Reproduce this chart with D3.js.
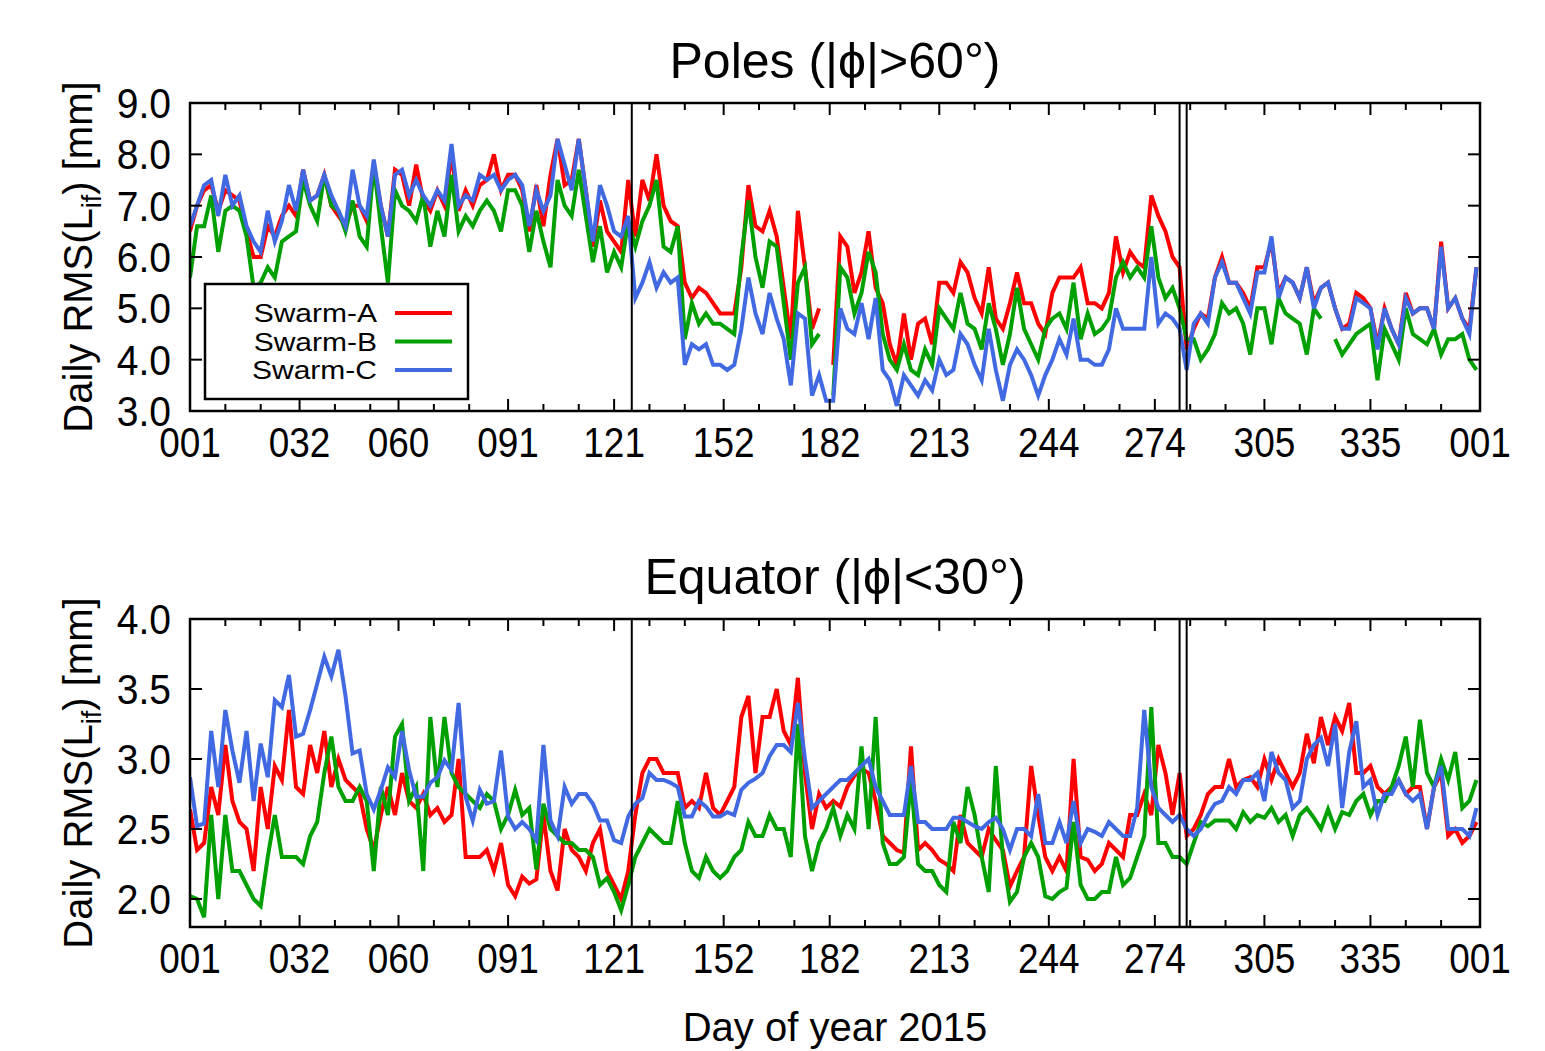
<!DOCTYPE html>
<html>
<head>
<meta charset="utf-8">
<script src="https://cdn.jsdelivr.net/npm/d3@7"></script>
<style>
  body { margin: 0; background: #fff; }
  text { font-family: "Liberation Sans", Arial, Helvetica, sans-serif; fill: #000; }
</style>
</head>
<body>
<script>
// daily RMS values, read every second day (001, 003, ... 365)
const days = d3.range(1, 366, 2);

// Poles (|phi| > 60 deg)
const poleA = [
  6.5,7.0,7.3,7.4,6.9,7.3,7.2,7.1,6.5,6.0, 6.0,6.6,6.4,6.8,7.0,6.8,7.7,7.1,7.2,7.6,
  7.0,6.8,6.6,7.0,7.0,6.7,7.8,7.0,6.4,7.7, 7.6,7.0,7.8,7.1,6.9,7.3,7.0,8.0,6.9,7.3,
  7.0,7.4,7.5,8.0,7.3,7.6,
  7.6,7.3,6.5,7.4,6.6,7.6,8.3,7.4,7.5,8.3, 7.3,6.2,7.1,6.5,6.3,6.1,7.5,6.4,7.5,7.1,
  8.0,7.0,6.7,6.6,5.5,5.2,5.4,5.3,5.1,4.9, 4.9,4.9,5.8,7.4,6.6,6.5,6.9,6.4,5.4,4.4,
  6.9,5.8,4.6,5.0,null,3.9,
  6.4,6.2,5.3,5.7,6.5,5.4,5.1,4.3,3.9,4.9, 4.0,4.7,4.8,4.3,5.5,5.5,5.3,5.9,5.7,5.2,
  4.9,5.8,4.8,4.6,5.1,5.7,5.1,5.1,4.7,4.5, 5.3,5.6,5.6,5.6,5.8,5.1,5.1,5.0,5.3,6.4,
  5.7,6.1,5.9,5.8,7.2,6.8,
  6.5,6.0,5.8,4.2,4.6,4.9,4.8,5.6,6.0,5.5, 5.5,5.3,5.0,5.8,5.8,6.3,5.3,5.6,5.5,5.2,
  5.8,5.1,5.4,5.5,5.0,4.6,4.7,5.3,5.2,5.0, 4.3,5.0,4.6,4.3,5.3,4.9,5.0,5.0,4.6,6.3,
  5.0,5.2,4.8,4.6,5.8
];
const poleB = [
  5.6,6.6,6.6,7.2,6.1,6.9,7.0,6.9,6.4,5.4, 5.5,5.8,5.6,6.3,6.4,6.5,7.5,7.0,6.7,7.6,
  7.0,6.9,6.5,7.1,6.4,6.2,7.8,6.6,5.5,7.3, 7.0,6.9,6.7,7.2,6.2,6.9,6.4,7.6,6.5,6.8,
  6.6,6.9,7.1,6.9,6.5,7.3,
  7.3,7.0,6.1,6.9,6.3,5.8,7.5,7.0,6.8,7.7, 6.8,5.9,6.6,5.7,6.1,5.8,6.7,6.2,6.7,7.0,
  7.5,6.2,6.1,6.6,4.4,5.1,4.7,4.9,4.7,4.7, 4.6,4.5,6.0,7.1,6.0,5.4,6.3,6.2,5.1,4.0,
  5.5,5.8,4.3,4.5,null,3.3,
  5.8,5.6,4.9,5.3,6.1,5.7,4.5,4.0,3.8,4.3, 3.8,3.7,4.2,3.9,5.0,4.8,4.6,5.3,4.7,4.6,
  4.2,5.1,4.6,3.9,4.5,5.4,4.6,4.3,4.0,4.6, 4.8,4.9,4.6,5.5,4.4,4.9,4.5,4.6,4.8,5.6,
  5.9,5.6,5.8,5.6,6.6,5.6,
  5.2,5.4,5.0,4.4,4.4,4.0,4.2,4.5,5.1,4.9, 5.0,4.7,4.1,5.0,5.0,4.3,5.2,4.9,4.8,4.7,
  4.1,5.0,4.8,null,4.4,4.1,4.3,4.5,4.6,4.7, 3.6,4.6,4.3,4.0,5.0,4.5,4.4,4.3,4.6,4.1,
  4.4,4.4,4.5,4.0,3.8
];
const poleC = [
  6.6,7.0,7.4,7.5,6.8,7.6,7.0,7.2,6.6,6.3, 6.1,6.9,6.3,6.7,7.4,6.9,7.7,7.1,7.2,7.6,
  7.2,6.9,6.6,7.7,7.0,6.8,7.9,7.0,6.4,7.6, 7.7,7.2,7.5,7.2,7.0,7.3,7.1,8.2,7.0,7.2,
  7.1,7.6,7.5,7.6,7.3,7.5,
  7.6,7.4,6.6,7.3,6.9,7.2,8.3,7.8,7.3,8.3, 7.3,6.3,7.4,7.0,6.5,6.4,6.8,5.2,5.5,5.9,
  5.4,5.7,5.5,5.6,3.9,4.3,4.2,4.3,3.9,3.9, 3.8,3.9,4.6,5.6,4.9,4.5,5.3,4.8,4.4,3.5,
  4.9,4.8,3.3,3.7,3.2,3.2,
  5.0,4.6,4.5,5.1,4.4,5.2,3.8,3.6,3.1,3.7, 3.5,3.3,3.6,3.4,4.0,3.7,3.8,4.5,4.3,3.9,
  3.6,4.6,3.8,3.2,3.9,4.2,4.0,3.7,3.3,3.7, 4.0,4.4,4.1,4.8,4.0,4.0,3.9,3.9,4.2,5.0,
  4.6,4.6,4.6,4.6,6.0,4.7,
  4.9,4.8,4.6,3.8,4.7,4.9,4.7,5.6,5.9,5.5, 5.5,5.2,4.9,5.7,5.7,6.4,5.2,5.6,5.5,5.2,
  5.8,5.0,5.4,5.5,5.0,4.6,4.6,5.2,5.1,5.0, 4.2,5.0,4.6,4.3,5.2,4.9,5.0,5.0,4.6,6.2,
  5.0,5.2,4.8,4.5,5.8
];

// Equator (|phi| < 30 deg)
const eqA = [
  2.64,2.35,2.4,2.8,2.6,3.1,2.7,2.55,2.5,2.2, 2.8,2.5,2.95,2.85,3.35,2.8,2.75,3.1,2.9,3.2,
  2.8,3.0,2.85,2.8,2.75,2.5,2.35,2.6,2.8,2.6, 2.9,2.7,2.65,2.75,2.6,2.65,2.55,2.6,3.0,2.3,
  2.3,2.3,2.35,2.2,2.4,2.1,
  2.02,2.16,2.11,2.14,2.6,2.2,2.06,2.5,2.35,2.3, 2.2,2.4,2.5,2.2,2.1,2.0,2.2,2.6,2.9,3.0,
  3.0,2.9,2.9,2.9,2.65,2.7,2.65,2.9,2.65,2.6, 2.7,2.8,3.3,3.45,2.9,3.3,3.3,3.5,3.2,3.1,
  3.58,2.9,2.5,2.75,2.65,2.7,
  2.66,2.8,2.88,2.93,2.9,2.7,2.45,2.4,2.35,2.33, 3.09,2.35,2.4,2.35,2.28,2.25,2.2,2.6,2.4,2.35,
  2.3,2.5,2.42,2.35,2.09,2.2,2.3,2.95,2.6,2.3, 2.2,2.3,2.2,3.0,2.3,2.28,2.2,2.25,2.4,2.35,
  2.3,2.6,2.6,2.75,2.6,3.1,
  2.9,2.6,2.9,2.45,2.5,2.6,2.75,2.8,2.8,3.0, 2.8,2.85,2.87,2.8,3.0,2.85,3.0,2.9,2.8,2.9,
  3.18,2.97,3.3,3.1,3.3,3.2,3.4,2.9,2.9,2.95, 2.8,2.75,2.8,2.85,2.75,2.8,2.8,2.5,2.8,2.9,
  2.45,2.5,2.4,2.45,2.55
];
const eqB = [
  2.02,2.0,1.87,2.6,2.0,2.6,2.2,2.2,2.1,2.0, 1.95,2.3,2.6,2.3,2.3,2.3,2.25,2.45,2.55,2.9,
  3.16,2.8,2.7,2.7,2.8,2.7,2.2,2.8,2.6,3.16, 3.25,2.7,2.8,2.2,3.3,2.8,3.3,2.9,2.8,2.75,
  2.7,2.65,2.75,2.7,2.5,2.6,
  2.78,2.6,2.65,2.21,2.68,2.5,2.45,2.4,2.4,2.35, 2.35,2.3,2.1,2.15,2.05,1.92,2.1,2.3,2.4,2.5,
  2.45,2.4,2.4,2.7,2.4,2.2,2.15,2.3,2.2,2.15, 2.2,2.3,2.35,2.55,2.45,2.45,2.6,2.5,2.5,2.3,
  3.25,2.45,2.2,2.4,2.5,2.65,
  2.45,2.6,2.5,3.09,2.5,3.3,2.4,2.25,2.25,2.3, 2.85,2.25,2.2,2.2,2.1,2.05,2.55,2.4,2.8,2.6,
  2.3,2.05,2.95,2.3,1.98,2.05,2.3,2.4,2.3,2.02, 2.0,2.05,2.08,2.55,2.1,2.0,2.0,2.05,2.05,2.3,
  2.1,2.15,2.3,2.45,3.37,2.4,
  2.4,2.3,2.3,2.25,2.4,2.55,2.52,2.56,2.56,2.56, 2.5,2.62,2.55,2.6,2.58,2.65,2.55,2.6,2.45,2.6,
  2.65,2.58,2.5,2.64,2.5,2.62,2.6,2.7,2.75,2.6, 2.7,2.7,2.8,2.95,3.16,2.8,3.28,2.9,2.8,3.0,
  2.85,3.05,2.65,2.7,2.85
];
const eqC = [
  2.87,2.52,2.54,3.2,2.8,3.35,3.06,2.83,3.2,2.7, 3.11,2.87,3.42,3.37,3.6,3.16,3.18,3.35,3.54,3.73,
  3.59,3.78,3.45,3.04,3.06,2.75,2.64,2.78,2.94,2.87, 3.2,2.92,2.73,2.73,2.83,2.87,2.99,2.92,3.4,2.73,
  2.56,2.78,2.68,2.7,3.06,2.59,
  2.5,2.55,2.5,2.42,3.1,2.56,2.45,2.8,2.68,2.75, 2.75,2.68,2.56,2.56,2.42,2.4,2.59,2.68,2.72,2.9,
  2.85,2.85,2.83,2.8,2.59,2.59,2.7,2.66,2.59,2.59, 2.62,2.6,2.78,2.83,2.86,2.9,3.02,3.1,3.1,3.05,
  3.4,3.0,2.65,2.7,2.75,2.8,
  2.85,2.85,2.9,2.95,3.0,2.8,2.7,2.6,2.6,2.6, 2.95,2.55,2.55,2.5,2.5,2.5,2.58,2.58,2.55,2.52,
  2.5,2.55,2.58,2.5,2.35,2.5,2.5,2.45,2.75,2.4, 2.4,2.55,2.4,2.7,2.4,2.5,2.48,2.45,2.55,2.5,
  2.45,2.45,2.65,3.35,2.8,2.65,
  2.6,2.55,2.6,2.5,2.45,2.5,2.6,2.68,2.7,2.8, 2.75,2.85,2.85,2.9,2.7,3.05,2.9,2.85,2.65,2.7,
  3.0,3.1,3.15,2.95,3.25,2.65,3.05,3.27,2.8,2.85, 2.6,2.75,2.75,2.85,2.75,2.7,2.75,2.5,2.8,2.95,
  2.5,2.5,2.5,2.45,2.65
];

const seriesNames = ["Swarm-A", "Swarm-B", "Swarm-C"];
const seriesColors = ["#ff0000", "#00a000", "#4169e1"];

// x axis: first day of each month, labelled as day of year
const monthStarts = [1, 32, 60, 91, 121, 152, 182, 213, 244, 274, 305, 335, 366];
const monthLabels = ["001","032","060","091","121","152","182","213","244","274","305","335","001"];

// days with vertical marker lines
const eventDays = [126, 281, 283];

const poleTicks = [3, 4, 5, 6, 7, 8, 9];
const eqTicks = [2.0, 2.5, 3.0, 3.5, 4.0];

const W = 1545, H = 1051;
const left = 190, right = 1480;

const svg = d3.select("body").append("svg")
    .attr("width", W)
    .attr("height", H);

const x = d3.scaleLinear().domain([1, 366]).range([left, right]);

const panels = [
  { title: "Poles (|\u03d5|>60\u00b0)", top: 103, bottom: 411, domain: [3, 9],
    ticks: poleTicks, data: [poleA, poleB, poleC], legend: true },
  { title: "Equator (|\u03d5|<30\u00b0)", top: 619, bottom: 927, domain: [1.8, 4.0],
    ticks: eqTicks, data: [eqA, eqB, eqC], legend: false }
];

// text squeezed/stretched horizontally, like the gnuplot png fonts
function label(g, px, py, str, size, anchor, sx) {
  return g.append("text")
    .attr("transform", "translate(" + px + "," + py + ") scale(" + sx + ",1)")
    .attr("text-anchor", anchor)
    .style("font-size", size + "px")
    .text(str);
}

panels.forEach(function(p) {
  const y = d3.scaleLinear().domain(p.domain).range([p.bottom, p.top]);
  const g = svg.append("g");

  // clip the series to the plot box
  const clipId = "clip" + p.top;
  svg.append("clipPath").attr("id", clipId)
    .append("rect")
      .attr("x", left).attr("y", p.top)
      .attr("width", right - left).attr("height", p.bottom - p.top);

  const line = d3.line()
      .defined(d => d[1] != null)
      .x(d => x(d[0]))
      .y(d => y(d[1]));

  const lines = g.append("g").attr("clip-path", "url(#" + clipId + ")");
  p.data.forEach(function(vals, i) {
    lines.append("path")
      .datum(days.map((d, k) => [d, vals[k]]))
      .attr("fill", "none")
      .attr("stroke", seriesColors[i])
      .attr("stroke-width", 4)
      .attr("stroke-linejoin", "miter")
      .attr("d", line);
  });

  // vertical marker lines
  g.selectAll("line.event")
    .data(eventDays)
    .enter().append("line")
      .attr("class", "event")
      .attr("x1", d => x(d)).attr("x2", d => x(d))
      .attr("y1", p.top).attr("y2", p.bottom)
      .attr("stroke", "#000")
      .attr("stroke-width", 2);

  // ticks, pointing inward on all four sides
  const minor = [];
  monthStarts.slice(0, -1).forEach(m => { minor.push(m + 10, m + 20); });
  const tk = g.append("g").attr("stroke", "#000").attr("stroke-width", 2);
  monthStarts.forEach(function(d) {
    tk.append("line").attr("x1", x(d)).attr("x2", x(d)).attr("y1", p.bottom).attr("y2", p.bottom - 12);
    tk.append("line").attr("x1", x(d)).attr("x2", x(d)).attr("y1", p.top).attr("y2", p.top + 12);
  });
  minor.forEach(function(d) {
    tk.append("line").attr("x1", x(d)).attr("x2", x(d)).attr("y1", p.bottom).attr("y2", p.bottom - 7);
    tk.append("line").attr("x1", x(d)).attr("x2", x(d)).attr("y1", p.top).attr("y2", p.top + 7);
  });
  p.ticks.forEach(function(v) {
    tk.append("line").attr("x1", left).attr("x2", left + 12).attr("y1", y(v)).attr("y2", y(v));
    tk.append("line").attr("x1", right).attr("x2", right - 12).attr("y1", y(v)).attr("y2", y(v));
  });

  // frame
  g.append("rect")
    .attr("x", left).attr("y", p.top)
    .attr("width", right - left).attr("height", p.bottom - p.top)
    .attr("fill", "none")
    .attr("stroke", "#000")
    .attr("stroke-width", 2.5);

  // tick labels
  monthStarts.forEach(function(d, i) {
    label(g, x(d), p.bottom + 46, monthLabels[i], 42, "middle", 0.88);
  });
  p.ticks.forEach(function(v) {
    label(g, left - 19, y(v) + 15, d3.format(".1f")(v), 42, "end", 0.93);
  });

  // title
  label(g, (left + right) / 2, p.top - 25, p.title, 50, "middle", 1.0);

  // y axis label with subscript
  const yl = g.append("text")
    .attr("transform", "translate(92," + ((p.top + p.bottom) / 2) + ") rotate(-90)")
    .attr("text-anchor", "middle")
    .style("font-size", "40px");
  yl.append("tspan").text("Daily RMS(L");
  yl.append("tspan").attr("dy", 9).style("font-size", "27px").text("if");
  yl.append("tspan").attr("dy", -9).text(") [mm]");

  if (p.legend) {
    const lg = g.append("g");
    lg.append("rect")
      .attr("x", 205).attr("y", 284)
      .attr("width", 263).attr("height", 115)
      .attr("fill", "#fff")
      .attr("stroke", "#000")
      .attr("stroke-width", 2.5);
    seriesNames.forEach(function(name, i) {
      const ly = 313 + i * 28.5;
      label(lg, 377, ly + 9, name, 25, "end", 1.2);
      lg.append("line")
        .attr("x1", 395).attr("x2", 452)
        .attr("y1", ly).attr("y2", ly)
        .attr("stroke", seriesColors[i])
        .attr("stroke-width", 4);
    });
  }
});

// x axis label
label(svg, (left + right) / 2, 1041, "Day of year 2015", 40, "middle", 1.0);
</script>
</body>
</html>
